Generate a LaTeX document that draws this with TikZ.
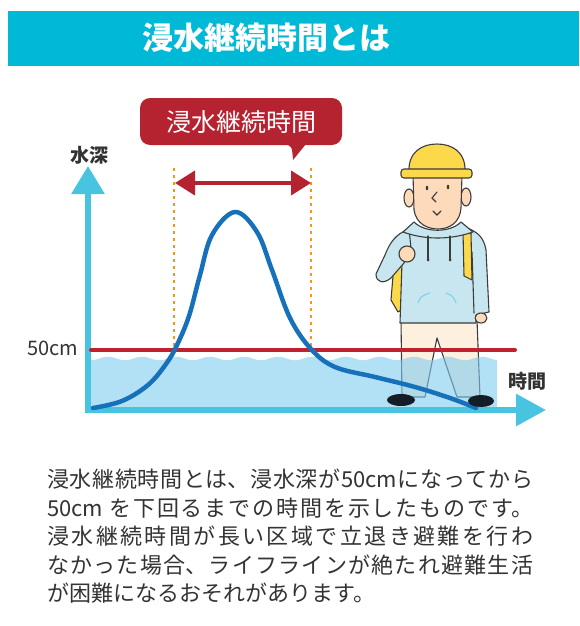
\documentclass[tikz,border=0pt]{standalone}
\usepackage{fontspec}
\newfontfamily\jp{Noto Sans CJK JP}
\usetikzlibrary{arrows.meta}
\XeTeXlinebreaklocale "ja"
\XeTeXlinebreakskip=0pt plus 4pt

\definecolor{titlecyan}{RGB}{0,185,214}
\definecolor{boxred}{RGB}{181,35,48}
\definecolor{linered}{RGB}{193,32,47}
\definecolor{dotorange}{RGB}{245,150,30}
\definecolor{axiscyan}{RGB}{72,196,224}
\definecolor{waterblue}{RGB}{127,203,239}
\definecolor{curveblue}{RGB}{22,113,186}
\definecolor{textgray}{RGB}{51,51,51}
\definecolor{helmetyellow}{RGB}{252,217,74}
\definecolor{skin}{RGB}{252,218,186}
\definecolor{hoodieblue}{RGB}{200,230,240}
\definecolor{pantscream}{RGB}{253,240,222}
\definecolor{shoedark}{RGB}{20,28,38}
\definecolor{outline}{RGB}{60,60,60}

\begin{document}
\begin{tikzpicture}[x=1pt,y=-1pt,
    label/.style={text=textgray, font=\jp\bfseries\fontsize{19}{19}\selectfont},
    dots/.style={dotorange, line width=2.8pt, dash pattern=on 3pt off 4pt},
    body/.style={draw=outline, line width=1.1pt, line join=round},
    thin/.style={outline, line width=1.1pt, line cap=round}]
\useasboundingbox (0,0) rectangle (579,626);

\fill[titlecyan] (8,11) rectangle (579,66);
\node[text=white, font=\jp\bfseries\fontsize{31}{31}\selectfont] (title) at (266,38) {浸水継続時間とは};

% callout over the duration
\node[fill=boxred, rounded corners=10pt, minimum width=202pt, minimum height=47pt, text=white,
      font=\jp\fontsize{25}{25}\selectfont] (dur) at (241,121.5) {浸水継続時間};
\fill[boxred] (284,144) .. controls (292,146) .. (293,160) -- (306,144) -- cycle;

\foreach \x in {174,311}
   \draw[dots] (\x,168) -- (\x,350);
\coordinate (dl) at (175,183);
\coordinate (dr) at (311,183);
\draw[boxred, line width=4pt, {Triangle[length=20pt,width=24pt]}-{Triangle[length=20pt,width=24pt]}] (dl) -- (dr);

% person: pack, legs, hoodie, head
\filldraw[body, fill=helmetyellow] (404,233) -- (395,252) -- (391,300) -- (398,312) -- (410,305) -- (412,236) -- cycle;
\filldraw[body, fill=pantscream] (401,320) -- (402,397) -- (425,397) -- (437,338) -- (457,397) -- (480,397) -- (477,320) -- cycle;
\filldraw[body, fill=hoodieblue] (409,228) .. controls (425,236) and (450,236) .. (467,228)
   .. controls (478,232) and (484,238) .. (486,250) -- (489,312) -- (476,315) -- (476,323)
   -- (400,323) -- (402,262) -- (405,238) .. controls (406,232) .. cycle;
\draw[thin] (472,252) -- (474,313);
\filldraw[body, fill=helmetyellow] (463,232) -- (471,233) -- (472,280) -- (464,276) -- cycle;
\filldraw[body, fill=hoodieblue] (409,229) .. controls (396,234) and (390,242) .. (385,255) -- (376,274)
   .. controls (376,283) and (384,284) .. (391,278) -- (404,263) -- (411,248) -- cycle;
\filldraw[body, fill=skin] (407,254) circle (8pt);
\filldraw[body, fill=skin] (481,318) ellipse (6pt and 5pt);
\draw[axiscyan!70, line width=1.2pt] (418,303) .. controls (421,296) .. (430,293);
\draw[axiscyan!70, line width=1.2pt] (446,293) .. controls (453,296) .. (456,303);
\filldraw[body, fill=skin] (409,198) ellipse (5pt and 9pt);
\filldraw[body, fill=skin] (466,197) ellipse (5pt and 9pt);
\filldraw[body, fill=skin] (413,175) -- (414,210) .. controls (416,224) and (428,229) .. (438,229)
   .. controls (450,229) and (460,222) .. (461,208) -- (462,175) -- cycle;
\filldraw[body, fill=hoodieblue] (403,232) -- (414,222) .. controls (425,233) and (450,233) .. (461,222)
   -- (473,232) .. controls (450,240) and (425,240) .. cycle;
\foreach \x in {428,450} {
   \draw[thin] (\x,236) -- (\x,260);
   \fill[outline] (\x,260) circle (1.5pt);
}
\filldraw[body, fill=helmetyellow] (409,172) .. controls (408,152) and (422,144) .. (437,144)
   .. controls (452,144) and (466,152) .. (465,172) -- cycle;
\filldraw[body, fill=helmetyellow, rounded corners=3pt] (401,169) rectangle (472,178);
\fill[outline] (427,188) ellipse (1.3pt and 2.3pt);
\fill[outline] (448,187) ellipse (1.3pt and 2.3pt);
\draw[thin] (437,192) -- (432,198) -- (436,202);
\draw[thin] (433,211) -- (437,215) -- (441,211);

% water up to the axis
\fill[waterblue, fill opacity=.6] (91,407) -- plot[domain=0:406, samples=140] ({91+\x},{358.5+1.8*cos(\x*10.59)}) -- (497,407) -- cycle;

% axes
\coordinate (o) at (88,410);
\coordinate (ytip) at (88,166);
\coordinate (xtip) at (546,410);
\draw[axiscyan, line width=6pt, {Triangle[length=28pt,width=32pt]}-{Triangle[length=30pt,width=31pt]}] (ytip) |- (xtip);
\node[label] (depth) at (89,155) {水深};
\node[label] (time) at (527,381) {時間};
\node[text=textgray, font=\jp\fontsize{20}{20}\selectfont] (lbl50) at (53,348) {50cm};

\coordinate (l50) at (91,350);
\coordinate (r50) at (515,350);
\draw[linered, line width=4pt, line cap=round] (l50) -- (r50);

\draw[curveblue, line width=4.5pt, line cap=round] plot[smooth, tension=.6] coordinates {
   (93,408) (122,401) (148,385) (166,364) (177,345) (189,316) (200,275) (212,235)
   (235,212) (257,232) (272,270) (290,318) (311,349) (335,367) (375,377) (415,387) (450,398) (476,408)};

\fill[shoedark] (401,400) ellipse (14pt and 6pt);
\fill[shoedark] (481,401) ellipse (13pt and 6pt);

\node[anchor=north west, inner sep=0pt, text width=486pt, align=justify, text=textgray,
      font=\jp\fontsize{22}{28.5}\selectfont] (expl) at (47,469)
  {浸水継続時間とは、浸水深が50cmになってから\linebreak
   50cm を下回るまでの時間を示したものです。\linebreak
   浸水継続時間が長い区域で立退き避難を行わ\linebreak
   なかった場合、ライフラインが絶たれ避難生活\linebreak
   が困難になるおそれがあります。};
\end{tikzpicture}
\end{document}
